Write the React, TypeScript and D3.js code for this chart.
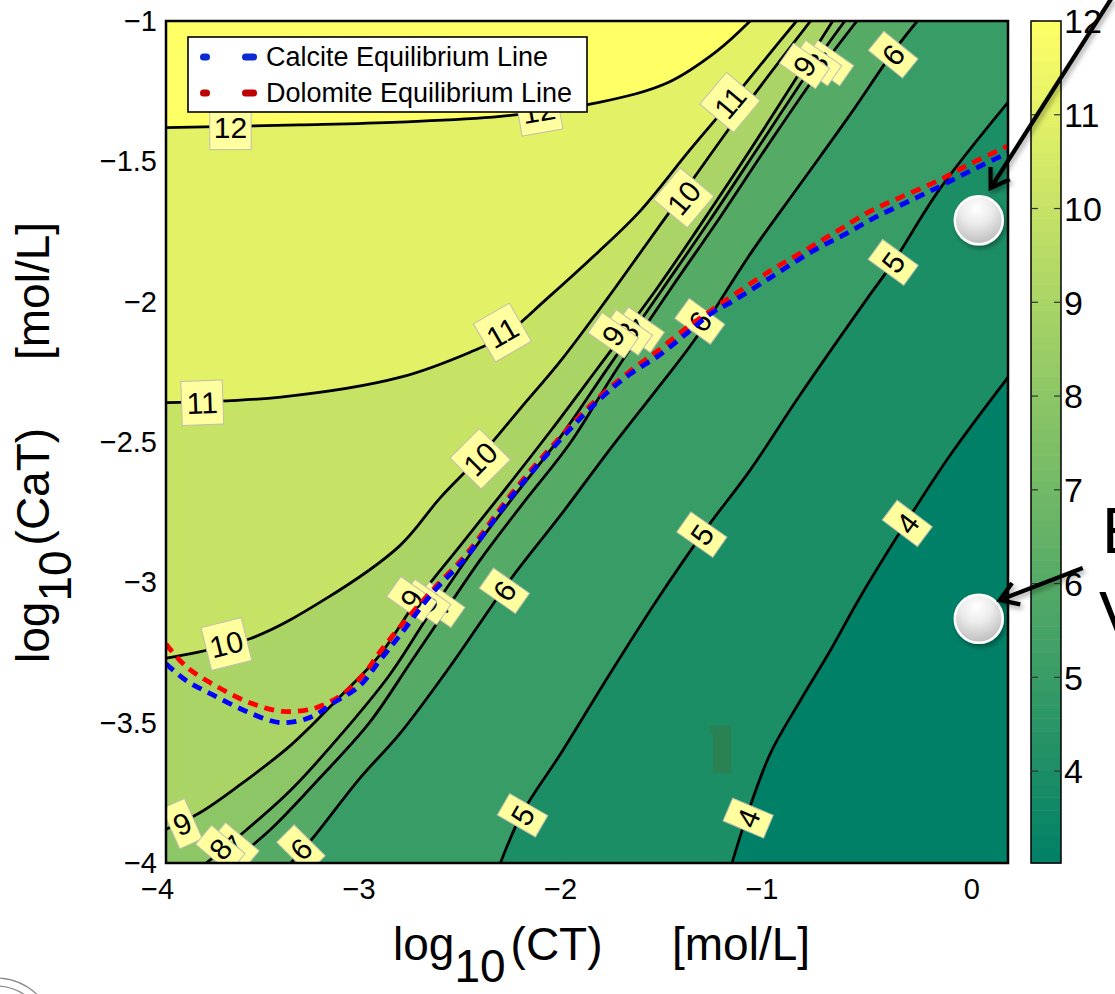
import * as d3 from 'd3'

// plot extents, log10 units
const xDomain: [number, number] = [-4, 0.18]
const yDomain: [number, number] = [-4, -1]
const xTicks = [-4, -3, -2, -1, 0]
const yTicks = [-1, -1.5, -2, -2.5, -3, -3.5, -4]
const colorDomain: [number, number] = [3.02, 12]
const colorTicks = [4, 5, 6, 7, 8, 9, 10, 11, 12]

// pH contour lines: [log10(CT), log10(CaT)]
const contour12 = [[-4, -1.38], [-3.34, -1.37], [-2.84, -1.36], [-2.34, -1.34], [-1.85, -1.29], [-1.51, -1.22], [-1.27, -1.11], [-1.1, -1]]
const contour11 = [[-4, -2.36], [-3.43, -2.34], [-2.84, -2.27], [-2.49, -2.18], [-2.32, -2.12], [-2.11, -1.99], [-1.85, -1.82], [-1.65, -1.68], [-1.4, -1.46], [-1.2, -1.29], [-1.03, -1.14], [-0.87, -1]]
const contour10 = [[-4, -3.27], [-3.58, -3.2], [-3.21, -3.06], [-2.84, -2.87], [-2.64, -2.7], [-2.44, -2.55], [-2.24, -2.38], [-2.04, -2.21], [-1.81, -1.99], [-1.61, -1.79], [-1.43, -1.61], [-1.13, -1.31], [-0.8, -1]]
const contour9 = [[-4, -3.88], [-3.83, -3.82], [-3.63, -3.72], [-3.38, -3.58], [-3.14, -3.41], [-2.94, -3.26], [-2.75, -3.06], [-2.54, -2.87], [-2.34, -2.69], [-2.09, -2.46], [-1.86, -2.24], [-1.57, -1.96], [-1.35, -1.73], [-1.1, -1.46], [-0.85, -1.18], [-0.69, -1]]
const contour8 = [[-3.8, -4], [-3.63, -3.9], [-3.38, -3.74], [-3.14, -3.55], [-2.89, -3.33], [-2.69, -3.11], [-2.49, -2.9], [-2.29, -2.71], [-2.04, -2.48], [-1.82, -2.25], [-1.54, -1.96], [-1.3, -1.71], [-1.05, -1.44], [-0.8, -1.17], [-0.63, -1]]
const contour7 = [[-3.68, -4], [-3.48, -3.88], [-3.24, -3.7], [-2.99, -3.5], [-2.79, -3.29], [-2.63, -3.12], [-2.44, -2.92], [-2.24, -2.73], [-1.99, -2.5], [-1.78, -2.26], [-1.5, -1.96], [-1.25, -1.7], [-1, -1.43], [-0.75, -1.17], [-0.57, -1]]
const contour6 = [[-3.38, -4], [-3.27, -3.91], [-3.04, -3.7], [-2.84, -3.54], [-2.59, -3.3], [-2.29, -2.99], [-2.04, -2.76], [-1.8, -2.53], [-1.55, -2.3], [-1.38, -2.14], [-1.09, -1.82], [-0.85, -1.58], [-0.61, -1.34], [-0.39, -1.11], [-0.27, -1]]
const contour5 = [[-2.34, -4], [-2.23, -3.82], [-2.04, -3.61], [-1.8, -3.33], [-1.56, -3.06], [-1.33, -2.82], [-1.1, -2.6], [-0.85, -2.33], [-0.52, -1.99], [-0.39, -1.86], [-0.16, -1.6], [0.18, -1.29]]
const contour4 = [[-1.19, -4], [-1.12, -3.84], [-1, -3.61], [-0.85, -3.42], [-0.7, -3.24], [-0.56, -3.06], [-0.32, -2.78], [-0.11, -2.55], [0.18, -2.27]]

const contourLevels = [4, 5, 6, 7, 8, 9, 10, 11, 12]
const contourLines = [contour4, contour5, contour6, contour7, contour8, contour9, contour10, contour11, contour12]

// equilibrium lines
const calcite = [[-4, -3.29], [-3.9, -3.35], [-3.77, -3.4], [-3.6, -3.46], [-3.43, -3.5], [-3.28, -3.48], [-3.17, -3.43], [-3.04, -3.37], [-2.94, -3.28], [-2.84, -3.19], [-2.68, -3.04], [-2.51, -2.91], [-2.28, -2.69], [-2.04, -2.49], [-1.85, -2.35], [-1.7, -2.26], [-1.55, -2.19], [-1.41, -2.11], [-1.29, -2.04], [-1.19, -2], [-0.99, -1.91], [-0.79, -1.82], [-0.63, -1.76], [-0.48, -1.7], [-0.32, -1.645], [-0.16, -1.59], [0.005, -1.53], [0.18, -1.47]]
const dolomite = [[-4, -3.22], [-3.9, -3.3], [-3.75, -3.37], [-3.58, -3.43], [-3.42, -3.46], [-3.27, -3.45], [-3.17, -3.42], [-3.09, -3.38], [-3.01, -3.32], [-2.94, -3.25], [-2.84, -3.16], [-2.68, -3.03], [-2.51, -2.9], [-2.28, -2.68], [-2.04, -2.48], [-1.85, -2.34], [-1.7, -2.25], [-1.55, -2.17], [-1.41, -2.09], [-1.29, -2.03], [-1.19, -1.98], [-1, -1.89], [-0.81, -1.81], [-0.66, -1.745], [-0.51, -1.68], [-0.36, -1.63], [-0.17, -1.57], [-0.01, -1.51], [0.18, -1.445]]

// contour labels: [level, x, y, rotation]
const contourLabels = [
  [12, -3.68, -1.38, 0], [12, -2.15, -1.32, -10],
  [11, -3.82, -2.36, -2], [11, -2.33, -2.11, -30], [11, -1.2, -1.29, -50],
  [10, -3.7, -3.22, -14], [10, -2.44, -2.56, -45], [10, -1.43, -1.63, -50],
  [9, -3.92, -3.86, -24], [7, -3.66, -3.94, -50], [8, -3.73, -3.95, -50], [6, -3.33, -3.95, -45],
  [7, -2.64, -3.08, -55], [8, -2.71, -3.07, -55], [9, -2.78, -3.06, -55], [6, -2.32, -3.03, -55],
  [7, -1.65, -2.1, -55], [8, -1.71, -2.11, -55], [9, -1.78, -2.12, -55], [6, -1.35, -2.07, -54],
  [7, -0.71, -1.15, -55], [8, -0.77, -1.15, -55], [9, -0.83, -1.16, -55], [6, -0.39, -1.12, -51],
  [5, -2.23, -3.83, -60], [5, -1.34, -2.83, -55], [5, -0.39, -1.86, -54],
  [4, -1.11, -3.84, -67], [4, -0.32, -2.79, -53],
]

// overlaid slide decorations
const markerX = [0.035, 0.035]
const markerY = [-1.71, -3.13]
const arrowFrom = [[0.695, -0.918], [0.551, -2.949]]
const arrowTo = [[0.094, -1.595], [0.139, -3.063]]

const FONT = "'Liberation Sans', Arial, Helvetica, sans-serif"

export default function App() {
  const W = 1115, H = 994
  const m = { left: 166, right: 1008, top: 21, bottom: 863 }
  const x = d3.scaleLinear().domain(xDomain).range([m.left, m.right])
  const y = d3.scaleLinear().domain(yDomain).range([m.bottom, m.top])
  const color = d3.scaleLinear<string>().domain(colorDomain).range(['#008066', '#ffff66'])
  const cbX = 1031, cbW = 30
  const cy = d3.scaleLinear().domain(colorDomain).range([m.bottom, m.top])

  const line = d3.line<number[]>()
    .x(d => x(d[0])).y(d => y(d[1]))
    .curve(d3.curveCatmullRom.alpha(0.5))

  // region where pH > level (upper-left side of the contour)
  const region = (pts: number[][]) => {
    const first = pts[0], last = pts[pts.length - 1]
    const corners: number[][] = []
    if (last[0] >= xDomain[1] - 1e-9) corners.push([xDomain[1], yDomain[1]])
    corners.push([xDomain[0], yDomain[1]])
    if (first[1] <= yDomain[0] + 1e-9) corners.push([xDomain[0], yDomain[0]])
    return line(pts) + corners.map(c => `L${x(c[0])},${y(c[1])}`).join('') + 'Z'
  }

  const steps = 64
  const stepV = (colorDomain[1] - colorDomain[0]) / steps
  const cbSteps = d3.range(steps).map(i => colorDomain[0] + i * stepV)

  const arrowHead = (from: number[], to: number[]) => {
    const x0 = x(from[0]), y0 = y(from[1]), x1 = x(to[0]), y1 = y(to[1])
    const a = Math.atan2(y0 - y1, x0 - x1)
    const L = 21, s = (33 * Math.PI) / 180
    return `M${x1 + L * Math.cos(a - s)},${y1 + L * Math.sin(a - s)}L${x1},${y1}L${x1 + L * Math.cos(a + s)},${y1 + L * Math.sin(a + s)}`
  }

  return (
    <svg width={W} height={H} style={{ position: 'absolute', left: 0, top: 0, background: '#fff' }} fontFamily={FONT}>
      <defs>
        <clipPath id="plot"><rect x={m.left} y={m.top} width={m.right - m.left} height={m.bottom - m.top} /></clipPath>
        <radialGradient id="ball" cx="45%" cy="25%" r="80%">
          <stop offset="0%" stopColor="#ffffff" />
          <stop offset="40%" stopColor="#ececec" />
          <stop offset="100%" stopColor="#b8b8b8" />
        </radialGradient>
        <filter id="shadow" x="-50%" y="-50%" width="200%" height="200%">
          <feDropShadow dx="2" dy="3" stdDeviation="2.5" floodColor="#000" floodOpacity="0.35" />
        </filter>
      </defs>

      {/* filled contours */}
      <g clipPath="url(#plot)">
        <rect x={m.left} y={m.top} width={m.right - m.left} height={m.bottom - m.top} fill={color(colorDomain[0])} />
        {contourLines.map((pts, i) => (
          <path key={'f' + i} d={region(pts)} fill={color(contourLevels[i])} />
        ))}
        {contourLines.map((pts, i) => (
          <path key={'l' + i} d={line(pts) ?? ''} fill="none" stroke="#000" strokeWidth={2.8} />
        ))}
        <rect x={x(-1.285)} y={y(-3.51)} width={x(-1.195) - x(-1.285)} height={y(-3.68) - y(-3.51)} fill="#2a8154" />
        <rect x={x(-1.3)} y={y(-3.51)} width={x(-1.285) - x(-1.3)} height={8} fill="#2a8154" />

        {contourLabels.map(([lv, lx, ly, rot], i) => {
          const txt = String(lv)
          const w = txt.length * 16.7 + 8
          const h = 44
          return (
            <g key={'t' + i} transform={`translate(${x(lx)},${y(ly)}) rotate(${rot})`}>
              <rect x={-w / 2} y={-h / 2} width={w} height={h} fill="#ffffa0" stroke="#bdbdb0" strokeWidth={1} />
              <text textAnchor="middle" dy="0.36em" fontSize={30} fill="#000">{txt}</text>
            </g>
          )
        })}

        <path d={line(dolomite) ?? ''} fill="none" stroke="#ff0000" strokeWidth={4.8} strokeDasharray="10,7" />
        <path d={line(calcite) ?? ''} fill="none" stroke="#0000ff" strokeWidth={4.8} strokeDasharray="10,7" />
      </g>

      {/* legend */}
      <g>
        <rect x={188} y={37} width={399} height={75} fill="#fff" stroke="#000" strokeWidth={1.6} />
        <line x1={203.5} x2={206.5} y1={57} y2={57} stroke="#0a2ad2" strokeWidth={7} strokeLinecap="round" />
        <line x1={245.5} x2={253.5} y1={57} y2={57} stroke="#0a2ad2" strokeWidth={7} strokeLinecap="round" />
        <line x1={203.5} x2={206.5} y1={93} y2={93} stroke="#c00000" strokeWidth={7} strokeLinecap="round" />
        <line x1={245.5} x2={253.5} y1={93} y2={93} stroke="#c00000" strokeWidth={7} strokeLinecap="round" />
        <text x={266} y={66} fontSize={27}>Calcite Equilibrium Line</text>
        <text x={266} y={102} fontSize={27}>Dolomite Equilibrium Line</text>
      </g>

      {/* axes frame */}
      <rect x={m.left} y={m.top} width={m.right - m.left} height={m.bottom - m.top} fill="none" stroke="#000" strokeWidth={2.5} />

      {xTicks.map(t => (
        <text key={'x' + t} x={x(t) + 8.2} y={899} textAnchor="end" fontSize={29}>
          {t < 0 ? '\u2212' + Math.abs(t) : String(t)}
        </text>
      ))}
      {yTicks.map(t => (
        <text key={'y' + t} x={157} y={y(t)} dy="0.35em" textAnchor="end" fontSize={29}>
          {'\u2212' + Math.abs(t)}
        </text>
      ))}

      <text x={393} y={960} fontSize={46}>
        log<tspan dy={22}>10</tspan><tspan dy={-22} dx={5}>(CT)</tspan>
      </text>
      <text x={672} y={960} fontSize={46}>[mol/L]</text>
      <text transform="translate(49,663) rotate(-90)" fontSize={46}>
        log<tspan dy={22}>10</tspan><tspan dy={-22} dx={5}>(CaT)</tspan>
      </text>
      <text transform="translate(49,360) rotate(-90)" fontSize={46}>[mol/L]</text>

      {/* colorbar */}
      <g>
        {cbSteps.map((v, i) => (
          <rect key={'c' + i} x={cbX} y={cy(v + stepV)} width={cbW} height={cy(v) - cy(v + stepV) + 0.5} fill={color(v + stepV / 2)} />
        ))}
        <rect x={cbX} y={m.top} width={cbW} height={m.bottom - m.top} fill="none" stroke="#000" strokeWidth={1.5} />
        {colorTicks.map(t => (
          <g key={'ct' + t}>
            <line x1={cbX} x2={cbX + 7} y1={cy(t)} y2={cy(t)} stroke="#333" strokeWidth={1.2} />
            <line x1={cbX + cbW - 7} x2={cbX + cbW} y1={cy(t)} y2={cy(t)} stroke="#333" strokeWidth={1.2} />
            <text x={cbX + cbW + 3} y={cy(t)} dy="0.36em" fontSize={34}>{t}</text>
          </g>
        ))}
      </g>

      {/* slide overlays */}
      <text x={1102} y={553} fontSize={64}>E</text>
      <text x={1099} y={637} fontSize={64}>V</text>
      <g fill="none" stroke="#8a8a8a" strokeWidth={1.2}>
        <circle cx={-5} cy={1040} r={62} />
        <circle cx={-5} cy={1040} r={54} />
      </g>

      {markerX.map((mx, i) => (
        <circle key={'b' + i} cx={x(mx)} cy={y(markerY[i])} r={24} fill="url(#ball)" stroke="#fff" strokeWidth={2.5} filter="url(#shadow)" />
      ))}
      {arrowFrom.map((f, i) => (
        <g key={'a' + i} fill="none" stroke="#000" strokeWidth={4.2} filter="url(#shadow)">
          <line x1={x(f[0])} y1={y(f[1])} x2={x(arrowTo[i][0])} y2={y(arrowTo[i][1])} />
          <path d={arrowHead(f, arrowTo[i])} strokeLinejoin="miter" />
        </g>
      ))}
    </svg>
  )
}
